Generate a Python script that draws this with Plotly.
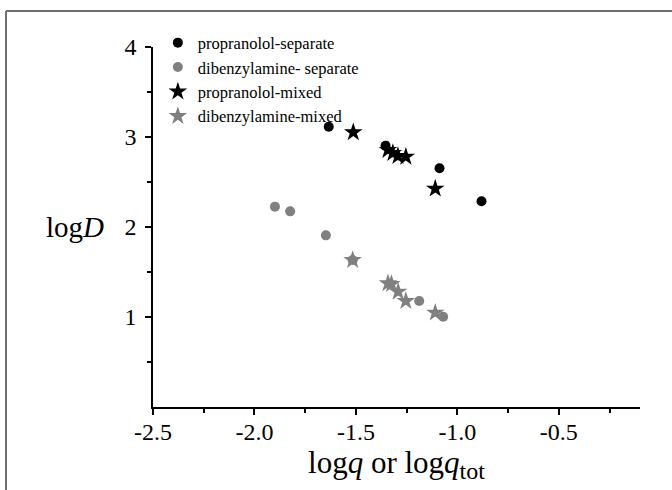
import plotly.graph_objects as go

# Data
prop_sep_x = [-1.634, -1.354, -1.088, -0.881]
prop_sep_y = [3.114, 2.903, 2.652, 2.286]

dib_sep_x = [-1.899, -1.824, -1.648, -1.516, -1.188, -1.070]
dib_sep_y = [2.226, 2.174, 1.907, 1.633, 1.178, 1.003]

prop_mix_x = [-1.513, -1.342, -1.318, -1.293, -1.254, -1.109]
prop_mix_y = [3.052, 2.856, 2.822, 2.789, 2.781, 2.426]

dib_mix_x = [-1.516, -1.342, -1.325, -1.292, -1.254, -1.109]
dib_mix_y = [1.633, 1.374, 1.366, 1.281, 1.178, 1.048]

x_ticks = [-2.5, -2.0, -1.5, -1.0, -0.5]
y_ticks = [1, 2, 3, 4]

BLACK = "#000000"
GRAY = "#808080"
FONT = "Liberation Serif"

fig = go.Figure()
fig.add_trace(go.Scatter(x=prop_sep_x, y=prop_sep_y, mode="markers",
                         name="propranolol-separate",
                         marker=dict(symbol="circle", size=10, color=BLACK)))
fig.add_trace(go.Scatter(x=dib_sep_x, y=dib_sep_y, mode="markers",
                         name="dibenzylamine- separate",
                         marker=dict(symbol="circle", size=10, color=GRAY)))
fig.add_trace(go.Scatter(x=prop_mix_x, y=prop_mix_y, mode="markers",
                         name="propranolol-mixed",
                         marker=dict(symbol="star", size=14, color=BLACK)))
fig.add_trace(go.Scatter(x=dib_mix_x, y=dib_mix_y, mode="markers",
                         name="dibenzylamine-mixed",
                         marker=dict(symbol="star", size=14, color=GRAY)))

fig.update_layout(
    width=672, height=490,
    margin=dict(l=153, r=32, t=47, b=83),
    paper_bgcolor="white", plot_bgcolor="white",
    font=dict(family=FONT, color="black"),
    showlegend=True,
    legend=dict(x=0.01, y=1.06, xanchor="left", yanchor="top",
                font=dict(family=FONT, size=16.5, color="black"),
                bgcolor="rgba(0,0,0,0)", tracegroupgap=0, itemwidth=30),
    xaxis=dict(range=[-2.5, -0.1], tickvals=x_ticks,
               ticktext=[f"{v:.1f}" for v in x_ticks],
               showgrid=False, zeroline=False, showline=True,
               linecolor="black", linewidth=1.5,
               ticks="outside", ticklen=6, tickwidth=1.5, tickcolor="black",
               tickfont=dict(family=FONT, size=24),
               ticklabelstandoff=-4,
               minor=dict(tickvals=[-2.25, -1.75, -1.25, -0.75, -0.25],
                          ticks="outside", ticklen=4, tickwidth=1.5,
                          tickcolor="black", showgrid=False),
               title=dict(text="log<i>q</i> or log<i>q</i><sub><span style='font-size:24px'>tot</span></sub>",
                          font=dict(family=FONT, size=31), standoff=4)),
    yaxis=dict(range=[0, 4], tickvals=y_ticks,
               showgrid=False, zeroline=False, showline=True,
               linecolor="black", linewidth=1.5,
               ticks="outside", ticklen=6, tickwidth=1.5, tickcolor="black",
               tickfont=dict(family=FONT, size=24),
               ticklabelstandoff=4,
               minor=dict(tickvals=[0.5, 1.5, 2.5, 3.5],
                          ticks="outside", ticklen=4, tickwidth=1.5,
                          tickcolor="black", showgrid=False)),
    annotations=[dict(text="log<i>D</i>", x=-0.16, y=0.5, xref="paper",
                      yref="paper", xanchor="center", yanchor="middle",
                      showarrow=False,
                      font=dict(family=FONT, size=29, color="black"))],
    shapes=[
        dict(type="line", xref="paper", yref="paper",
             x0=-0.3018, x1=1.2, y0=1.1, y1=1.1,
             line=dict(color="#6e6e6e", width=2)),
        dict(type="line", xref="paper", yref="paper",
             x0=-0.3018, x1=-0.3018, y0=-0.3, y1=1.1,
             line=dict(color="#6e6e6e", width=2)),
    ],
)

fig.write_html("out.html", config={"displayModeBar": False},
               post_script="document.body.style.margin='0px';")
